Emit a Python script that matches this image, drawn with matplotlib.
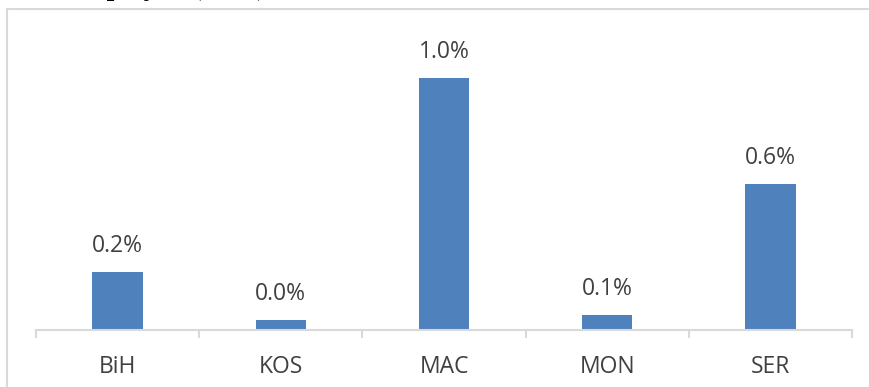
import matplotlib.pyplot as plt
from matplotlib.patches import Rectangle

countries = ['BiH', 'KOS', 'MAC', 'MON', 'SER']
shares = [0.23, 0.04, 1.0, 0.06, 0.58]   # percent
bar_color = '#4f81bd'
text_color = '#404040'
line_color = '#d9d9d9'

W, H = 869, 387
fig = plt.figure(figsize=(W / 100, H / 100), dpi=100)

# plot area in pixels: left 36, right 852, baseline 330
left, right, base = 36, 852, 330
ymax = 1.2
px_per_unit = 252
top = base - ymax * px_per_unit
ax = fig.add_axes([left / W, 1 - base / H, (right - left) / W, (base - top) / H])

x = range(len(countries))
ax.bar(x, shares, width=0.31, color=bar_color, zorder=2)
for i, v in zip(x, shares):
    ax.annotate(f'{v:.1f}%', (i, v), xytext=(0, 10), textcoords='offset points',
                ha='center', va='bottom', fontsize=16.5, color=text_color,
                family='Open Sans')

ax.set_xlim(-0.5, len(countries) - 0.5)
ax.set_ylim(0, ymax)
for s in ['top', 'right', 'left']:
    ax.spines[s].set_visible(False)
ax.spines['bottom'].set_color(line_color)
ax.spines['bottom'].set_linewidth(1.5)
ax.set_yticks([])
ax.set_xticks([i - 0.5 for i in range(len(countries) + 1)], minor=False)
ax.set_xticklabels([])
ax.tick_params(axis='x', length=6, width=1.5, color=line_color)
ax.set_xticks(list(x), minor=True)
ax.set_xticklabels(countries, minor=True)
ax.tick_params(axis='x', which='minor', length=0, pad=18, labelsize=16.5,
               labelcolor=text_color)
for lab in ax.get_xticklabels(minor=True):
    lab.set_family('Open Sans')

# chart frame, runs past the right and bottom edges
fig.patches.append(Rectangle((7 / W, -0.1), 1.2, 1 - 9 / H + 0.1,
                             transform=fig.transFigure, fill=False,
                             edgecolor=line_color, linewidth=1.5))

# heading sitting above the frame
fig.text(0.02, 1 + 5 / H, 'Self-employed (2015)', ha='left', va='baseline',
         fontsize=20, fontweight='bold', family='Liberation Serif')

fig.savefig('out.png', dpi=100)
